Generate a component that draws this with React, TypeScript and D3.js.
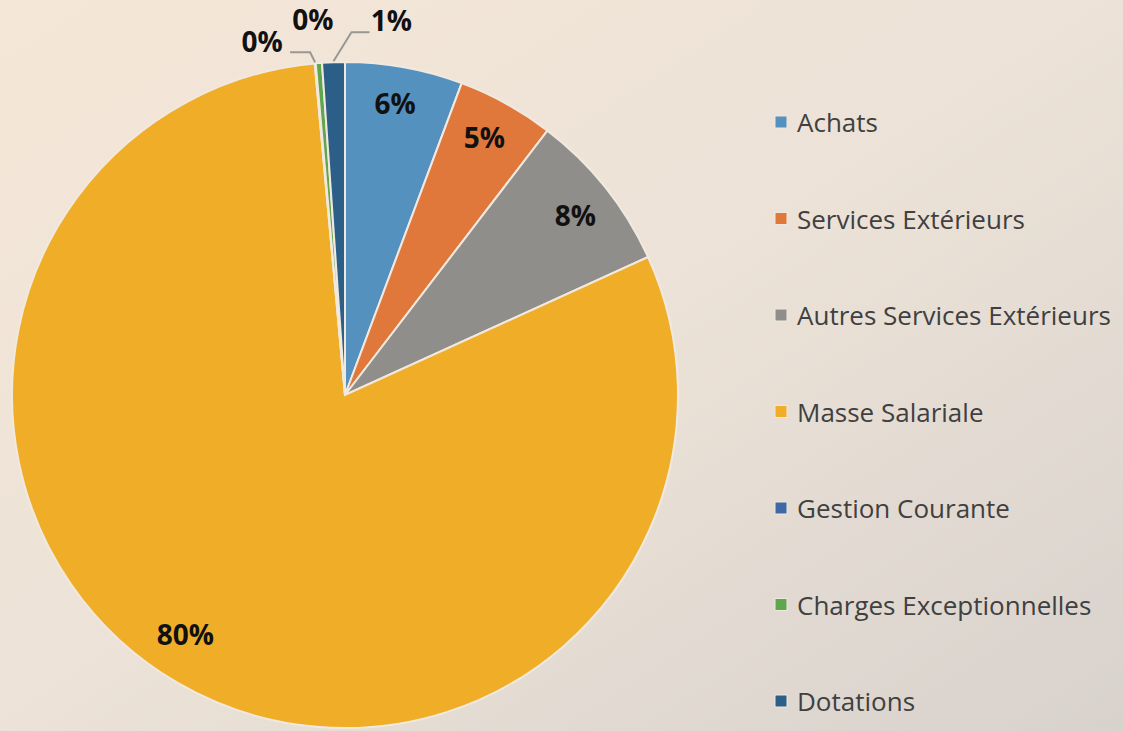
import React from "react";
import * as d3 from "d3";

const categories = [
  "Achats",
  "Services Extérieurs",
  "Autres Services Extérieurs",
  "Masse Salariale",
  "Gestion Courante",
  "Charges Exceptionnelles",
  "Dotations",
];
const values = [5.7, 4.7, 7.8, 80.35, 0.05, 0.3, 1.1];
const colors = ["#5591bf", "#e0783b", "#8f8e8a", "#f0ad28", "#3f68a6", "#5fa74f", "#2b5f88"];

// label layout helpers (relative nudges, not data)
const insideNudge: Record<string, [number, number]> = {
  Achats: [-2, -5],
  "Services Extérieurs": [-2, -3],
  "Autres Services Extérieurs": [2, 2],
  "Masse Salariale": [-13, -13],
};
// [labelDx, labelDy, elbowDx, elbowDy, endDx, showLine]
const outsideLayout: Record<string, [number, number, number, number, number, boolean]> = {
  "Gestion Courante": [-53, -21, -5, -10, -25, true],
  "Charges Exceptionnelles": [-6, -43, 0, 0, 0, false],
  Dotations: [58, -41, 18, -29, 36, true],
};

const W = 1123;
const H = 731;
const cx = 345;
const cy = 395;
const R = 333;

export default function App() {
  const pie = d3.pie<number>().sort(null).value((d) => d);
  const arcs = pie(values);
  const arc = d3.arc<d3.PieArcDatum<number>>().innerRadius(0).outerRadius(R);
  const labelArc = d3.arc<d3.PieArcDatum<number>>().innerRadius(292).outerRadius(292);
  const total = d3.sum(values);
  const fmt = d3.format(".0%");
  const legendY = d3.scalePoint<string>().domain(categories).range([122, 701]);

  const labelStyle = {
    fontFamily: "'Open Sans', sans-serif",
    fontWeight: 700,
    fontSize: 28,
    fill: "#111",
  } as const;

  return (
    <svg width={W} height={H} style={{ position: "absolute", left: 0, top: 0 }}>
      <defs>
        <linearGradient id="bg" x1="0" y1="0" x2="1" y2="1">
          <stop offset="0" stopColor="#f5e7d7" />
          <stop offset="0.5" stopColor="#ece2d7" />
          <stop offset="1" stopColor="#d8d2cd" />
        </linearGradient>
      </defs>
      <rect width={W} height={H} fill="url(#bg)" />
      <g transform={`translate(${cx},${cy})`}>
        {arcs.map((a, i) => (
          <path key={i} d={arc(a) || ""} fill={colors[i]} stroke="#f1e9df" strokeWidth={2} />
        ))}
        {arcs.map((a, i) => {
          const cat = categories[i];
          const txt = fmt(values[i] / total);
          const lay = outsideLayout[cat];
          if (lay) {
            const mid = (a.startAngle + a.endAngle) / 2;
            const ax = Math.sin(mid) * (R + 1);
            const ay = -Math.cos(mid) * (R + 1);
            const [ldx, ldy, edx, edy, endDx, showLine] = lay;
            return (
              <g key={"l" + i}>
                {showLine && (
                  <polyline
                    points={`${ax},${ay} ${ax + edx},${ay + edy} ${ax + endDx},${ay + edy}`}
                    fill="none"
                    stroke="#9a9793"
                    strokeWidth={2}
                  />
                )}
                <text x={ax + ldx} y={ay + ldy} textAnchor="middle" dominantBaseline="central" {...labelStyle}>
                  {txt}
                </text>
              </g>
            );
          }
          const [x, y] = labelArc.centroid(a);
          const n = insideNudge[cat] || [0, 0];
          return (
            <text key={"l" + i} x={x + n[0]} y={y + n[1]} textAnchor="middle" dominantBaseline="central" {...labelStyle}>
              {txt}
            </text>
          );
        })}
      </g>
      <g>
        {categories.map((c, i) => (
          <g key={c} transform={`translate(775,${legendY(c)})`}>
            <rect x={0} y={-6} width={12} height={12} fill={colors[i]} stroke="#efe8df" strokeWidth={1} />
            <text
              x={22}
              y={0}
              dominantBaseline="central"
              fontFamily="'Open Sans', sans-serif"
              fontSize={26}
              fill="#404040"
            >
              {c}
            </text>
          </g>
        ))}
      </g>
    </svg>
  );
}
